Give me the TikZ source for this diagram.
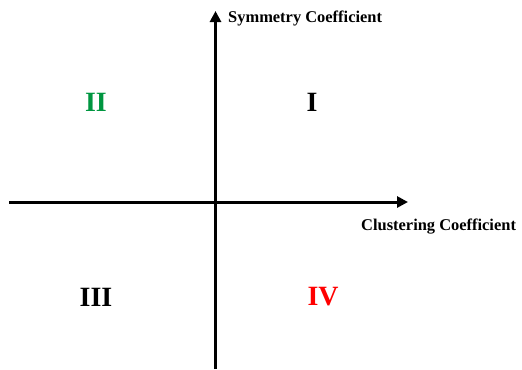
\documentclass[tikz,border=0pt]{standalone}
\usepackage{fontspec}
\setmainfont{Liberation Serif}
\usepackage{xcolor}
\usetikzlibrary{arrows.meta,positioning}
\definecolor{quadgreen}{RGB}{0,150,64}
\definecolor{quadred}{RGB}{255,0,0}

\begin{document}
\begin{tikzpicture}[
    x=1bp, y=-1bp,
    axis/.style={line width=3bp, -{Triangle[length=11bp,width=11bp]}},
    every node/.style={inner sep=0pt, font=\bfseries},
    lab/.style={anchor=west, font=\fontsize{16.5}{18}\selectfont\bfseries},
    quad/.style={font=\fontsize{28}{30}\selectfont\bfseries}
  ]
  \useasboundingbox (0,0) rectangle (522,369);
  \coordinate (xl) at (9,202);
  \coordinate (xr) at (408,202);
  \coordinate (yb) at (215.5,369);
  \coordinate (yt) at (215.5,11);
  \draw[axis] (xl)--(xr);
  \draw[axis] (yb)--(yt);
  % Axis labels
  \node[lab] (ylab) at (228,18) {Symmetry Coefficient};
  \node[lab] (xlab) at (361,227) {Clustering Coefficient};
  % Quadrants
  \node[quad, text=quadgreen] (q2) at (96,102) {II};
  \node[quad] (q1) at (312,102) {I};
  \node[quad] (q3) at (96,297) {III};
  \node[quad, text=quadred] (q4) at (323,297) {IV};
\end{tikzpicture}
\end{document}
